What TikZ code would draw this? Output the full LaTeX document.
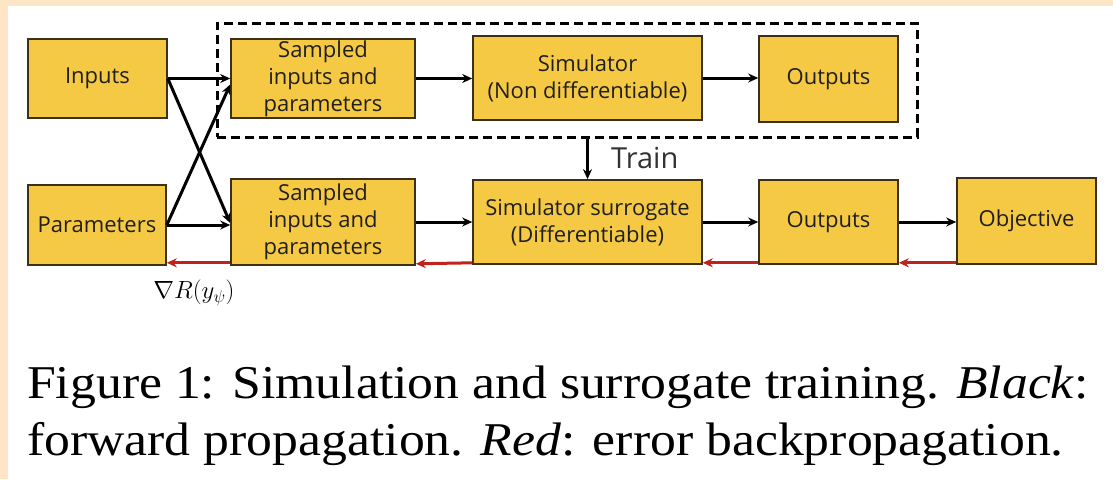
\documentclass[tikz,border=0pt]{standalone}
\usepackage{fontspec}
\setmainfont{Liberation Serif}
\newfontfamily\boxfont{Open Sans}
\usetikzlibrary{arrows.meta}
\definecolor{boxfill}{RGB}{246,201,68}
\definecolor{boxline}{RGB}{60,48,25}
\definecolor{backred}{RGB}{190,35,30}
\definecolor{peach}{RGB}{253,229,198}
\begin{document}
\begin{tikzpicture}[x=1pt,y=-1pt,
  blk/.style={draw=boxline, line width=1.6pt, fill=boxfill, inner sep=0pt,
    align=center, text=black!88,
    font=\boxfont\fontsize{22}{27}\selectfont},
  fwd/.style={line width=3pt, -{Stealth[length=10pt,width=9pt]}},
  bwd/.style={draw=backred, line width=3pt, -{Stealth[length=10pt,width=9pt]}},
  grpbox/.style={draw, dash pattern=on 9pt off 5pt, line width=3pt, inner sep=0pt},
  capline/.style={anchor=base west, inner sep=0pt, font=\fontsize{47}{57}\selectfont}]

% page and background
\useasboundingbox (0,0) rectangle (1113,479);
\fill[peach] (0,0) rectangle (1113,479);
\fill[white] (8,6) rectangle (1113,479);

% group around the real simulator
\node (grp) [grpbox, minimum width=700pt, minimum height=114pt] at (567,80) {};

% top row
\node (inp)  [blk, minimum width=139pt, minimum height=79pt] at (97.5,78.5) {Inputs};
\node (st)   [blk, minimum width=184pt, minimum height=79pt] at (323,78.5) {Sampled\\inputs and\\parameters};
\node (sim)  [blk, minimum width=229pt, minimum height=84pt] at (587.5,78) {Simulator\\(Non differentiable)};
\node (outt) [blk, minimum width=139pt, minimum height=86pt] at (828.5,79) {Outputs};

% bottom row
\node (par)  [blk, minimum width=138pt, minimum height=80pt] at (97,225) {Parameters};
\node (sb)   [blk, minimum width=184pt, minimum height=86pt] at (323,222) {Sampled\\inputs and\\parameters};
\node (sur)  [blk, minimum width=229pt, minimum height=84pt] at (587.5,222) {Simulator surrogate\\(Differentiable)};
\node (outb) [blk, minimum width=139pt, minimum height=84pt] at (828.5,222) {Outputs};
\node (obj)  [blk, minimum width=139pt, minimum height=86pt] at (1026.5,221) {Objective};

% forward propagation
\draw[fwd] (inp.east) -- (st.west);
\draw[fwd] (inp.east) -- ([yshift=-1pt]sb.west);
\draw[fwd] (par.east) -- (sb.west |- par.east);
\draw[fwd] (par.east) -- ([yshift=-6pt]st.west);
\draw[fwd] (st.east) -- (sim.west |- st.east);
\draw[fwd] (sim.east) -- (outt.west |- sim.east);
\draw[fwd] (sb.east) -- (sur.west);
\draw[fwd] (sur.east) -- (outb.west);
\draw[fwd] (outb.east) -- (obj.west |- outb.east);

% training of the surrogate
\draw[line width=3pt, -{Stealth[length=10pt,width=9pt]}] (grp.south -| sur.north) -- (sur.north);
\node (train) [anchor=base west, inner sep=0pt, text=black!80,
  font=\boxfont\fontsize{29}{32}\selectfont] at (611,168) {Train};

% error backpropagation
\draw[bwd] ([yshift=2pt]obj.south west) -- ([yshift=2pt]outb.south east);
\draw[bwd] ([yshift=2pt]outb.south west) -- ([yshift=2pt]sur.south east);
\draw[bwd] ([yshift=2pt]sur.south west) -- ([yshift=2pt]sb.south east);
\draw[bwd] ([yshift=3pt]sb.south west) -- ([yshift=3pt]par.south east);

\node (grad) [font=\fontsize{23}{26}\selectfont] at (194,293) {$\nabla R(y_\psi)$};

% caption
\node (cap1) [capline] at (27,398)
  {\scalebox{1.1}[1]{Figure 1: Simulation and surrogate training. \textit{Black}:}};
\node (cap2) [capline] at (27,455)
  {\scalebox{1.1}[1]{forward propagation. \textit{Red}: error backpropagation.}};
\end{tikzpicture}
\end{document}
